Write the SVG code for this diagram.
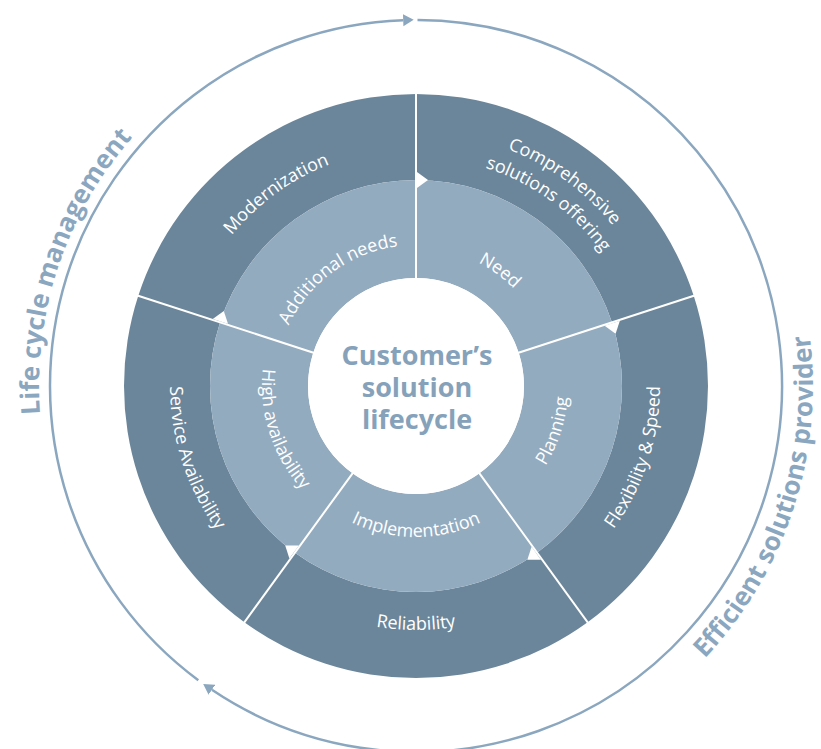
<svg xmlns="http://www.w3.org/2000/svg" xmlns:xlink="http://www.w3.org/1999/xlink" width="821" height="749" viewBox="0 0 821 749">
<style>
.dark{fill:#6b869a}
.light{fill:#93abbf}
.lbl{font-family:"Open Sans","Noto Sans",sans-serif;font-size:18px;fill:#ffffff;text-anchor:middle}
.big{font-family:"Open Sans","Noto Sans",sans-serif;font-size:26px;font-weight:700;fill:#8ba7bf;text-anchor:middle}
.ctr{font-family:"Open Sans","Noto Sans",sans-serif;font-size:27px;font-weight:700;fill:#86a2ba;text-anchor:middle}
.div{stroke:#ffffff;stroke-width:2;fill:none}
.ring{stroke:#8ba7bf;stroke-width:2.5;fill:none}
</style>
<defs>
<marker id="arr" markerUnits="userSpaceOnUse" markerWidth="12" markerHeight="14" refX="0" refY="7" orient="auto">
<path d="M0,1 L10.5,7 L0,13 Z" fill="#8ba7bf"/>
</marker>
<path id="tri" d="M1,-8 L12,0 L1,8 Z" fill="#ffffff"/>
<path id="pMod" d="M187.22,451.60 A238,238 0 0 1 549.09,188.69"/>
<path id="pCom1" d="M273.97,175.42 A254,254 0 0 1 660.16,456.01"/>
<path id="pCom2" d="M287.94,196.15 A229,229 0 0 1 636.13,449.12"/>
<path id="pFlex" d="M424.52,629.85 A244,244 0 0 0 566.22,193.73"/>
<path id="pRel" d="M186.71,469.45 A244,244 0 0 0 645.29,469.45"/>
<path id="pServ" d="M264.55,192.15 A246,246 0 0 0 407.41,631.85"/>
<path id="pAdd" d="M280.46,424.86 A141,141 0 0 1 494.85,269.11"/>
<path id="pNeed" d="M338.83,271.59 A138,138 0 0 1 548.65,424.04"/>
<path id="pPlan" d="M421.30,537.91 A152,152 0 0 0 509.58,266.22"/>
<path id="pImp" d="M274.11,437.65 A151,151 0 0 0 557.89,437.65"/>
<path id="pHigh" d="M321.19,264.65 A154,154 0 0 0 410.63,539.91"/>
<path id="pLife" d="M236.11,717.31 A377,377 0 0 1 471.72,13.14"/>
<path id="pEff" d="M429.85,782.76 A397,397 0 0 0 660.42,73.16"/>
</defs>
<rect width="821" height="749" fill="#ffffff"/>

<g id="modernization">
<path class="dark" d="M138.29,295.77 A292,292 0 0 1 416,94 L416,180 A206,206 0 0 0 220.08,322.34 Z"/>
<text class="lbl"><textPath href="#pMod" startOffset="50%">Modernization</textPath></text>
</g>
<g id="comprehensive-solutions-offering">
<path class="dark" d="M416,94 A292,292 0 0 1 693.71,295.77 L611.92,322.34 A206,206 0 0 0 416,180 Z"/>
<text class="lbl"><textPath href="#pCom1" startOffset="50%">Comprehensive</textPath></text>
<text class="lbl"><textPath href="#pCom2" startOffset="50%">solutions offering</textPath></text>
</g>
<g id="flexibility-speed">
<path class="dark" d="M693.71,295.77 A292,292 0 0 1 587.63,622.23 L537.08,552.66 A206,206 0 0 0 611.92,322.34 Z"/>
<text class="lbl"><textPath href="#pFlex" startOffset="50%">Flexibility &amp; Speed</textPath></text>
</g>
<g id="reliability">
<path class="dark" d="M587.63,622.23 A292,292 0 0 1 244.37,622.23 L294.92,552.66 A206,206 0 0 0 537.08,552.66 Z"/>
<text class="lbl"><textPath href="#pRel" startOffset="50%">Reliability</textPath></text>
</g>
<g id="service-availability">
<path class="dark" d="M244.37,622.23 A292,292 0 0 1 138.29,295.77 L220.08,322.34 A206,206 0 0 0 294.92,552.66 Z"/>
<text class="lbl"><textPath href="#pServ" startOffset="50%">Service Availability</textPath></text>
</g>

<g id="additional-needs">
<path class="light" d="M220.08,322.34 A206,206 0 0 1 416,180 L416,278 A108,108 0 0 0 313.29,352.63 Z"/>
<text class="lbl"><textPath href="#pAdd" startOffset="50%">Additional needs</textPath></text>
</g>
<g id="need">
<path class="light" d="M416,180 A206,206 0 0 1 611.92,322.34 L518.71,352.63 A108,108 0 0 0 416,278 Z"/>
<text class="lbl"><textPath href="#pNeed" startOffset="50%">Need</textPath></text>
</g>
<g id="planning">
<path class="light" d="M611.92,322.34 A206,206 0 0 1 537.08,552.66 L479.48,473.37 A108,108 0 0 0 518.71,352.63 Z"/>
<text class="lbl"><textPath href="#pPlan" startOffset="50%">Planning</textPath></text>
</g>
<g id="implementation">
<path class="light" d="M537.08,552.66 A206,206 0 0 1 294.92,552.66 L352.52,473.37 A108,108 0 0 0 479.48,473.37 Z"/>
<text class="lbl"><textPath href="#pImp" startOffset="50%">Implementation</textPath></text>
</g>
<g id="high-availability">
<path class="light" d="M294.92,552.66 A206,206 0 0 1 220.08,322.34 L313.29,352.63 A108,108 0 0 0 352.52,473.37 Z"/>
<text class="lbl"><textPath href="#pHigh" startOffset="50%">High availability</textPath></text>
</g>

<g id="center">
<circle cx="416" cy="386" r="108" fill="#ffffff"/>
<text class="ctr" x="417" y="365">Customer’s</text>
<text class="ctr" x="417" y="397">solution</text>
<text class="ctr" x="417" y="429">lifecycle</text>
</g>

<g id="life-cycle-management">
<text class="big"><textPath href="#pLife" startOffset="50%">Life cycle management</textPath></text>
</g>
<g id="efficient-solutions-provider">
<text class="big"><textPath href="#pEff" startOffset="50%">Efficient solutions provider</textPath></text>
</g>

<g id="connectors">
<line class="div" x1="416" y1="93" x2="416" y2="279"/>
<line class="div" x1="694.66" y1="295.46" x2="517.76" y2="352.93"/>
<line class="div" x1="588.22" y1="623.04" x2="478.89" y2="472.56"/>
<line class="div" x1="243.78" y1="623.04" x2="353.11" y2="472.56"/>
<line class="div" x1="137.34" y1="295.46" x2="314.24" y2="352.93"/>
<use href="#tri" transform="translate(416,180) rotate(0)"/>
<use href="#tri" transform="translate(611.92,322.34) rotate(72)"/>
<use href="#tri" transform="translate(537.08,552.66) rotate(144)"/>
<use href="#tri" transform="translate(294.92,552.66) rotate(216)"/>
<use href="#tri" transform="translate(220.08,322.34) rotate(288)"/>
<path class="ring" marker-end="url(#arr)" d="M417.5,20 A366,366 0 1 1 211.9,689.8"/>
<path class="ring" marker-end="url(#arr)" d="M198.3,680.2 A366,366 0 0 1 403.2,20.2"/>
</g>
</svg>
